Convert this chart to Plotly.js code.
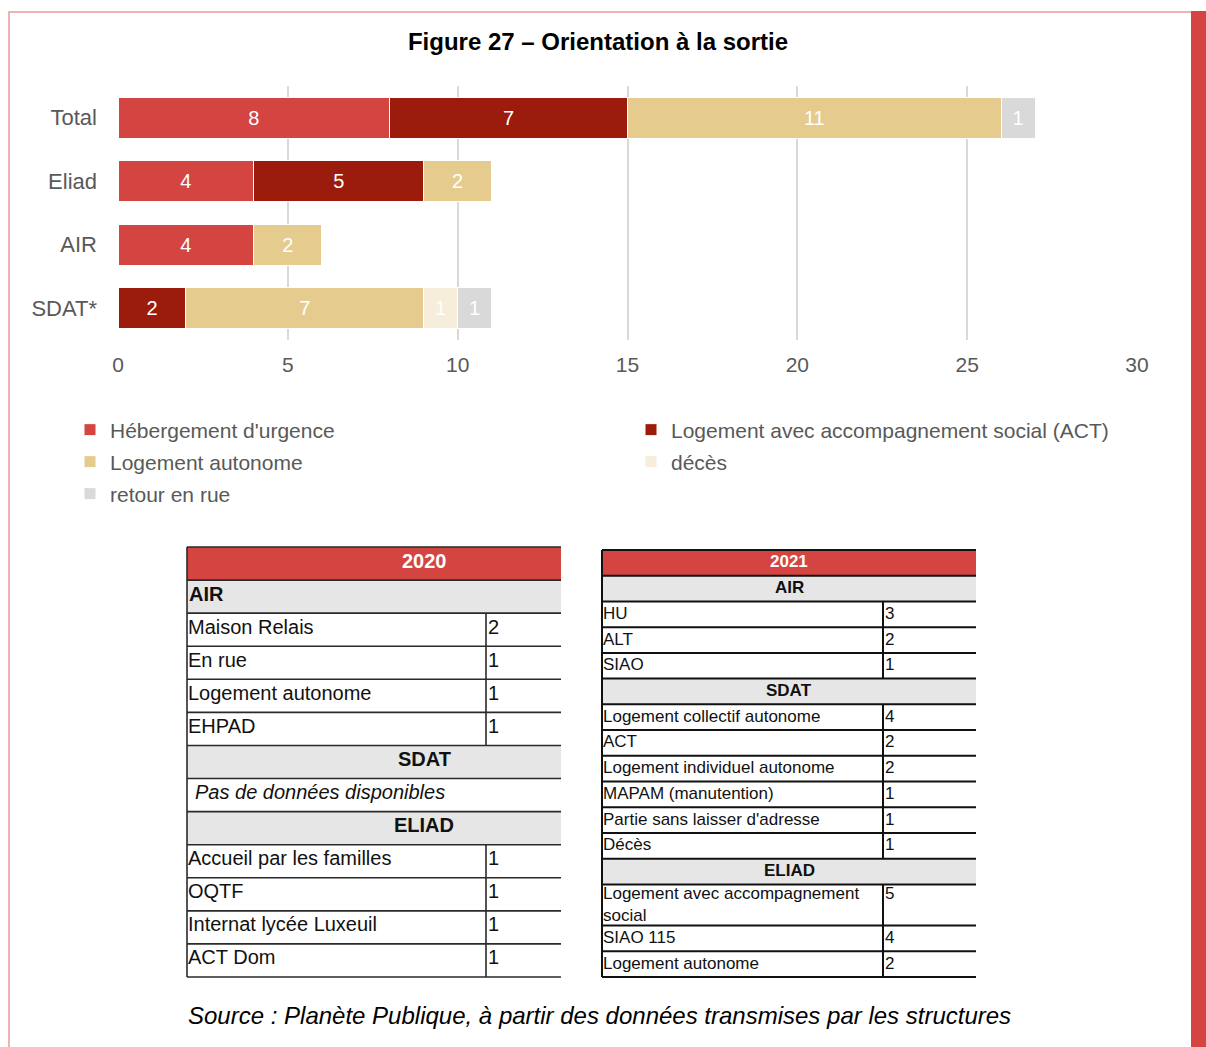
<!DOCTYPE html>
<html><head><meta charset="utf-8">
<script src="https://cdn.plot.ly/plotly-3.0.1.min.js"></script>
<style>html,body{margin:0;padding:0;background:#fff}#chart{width:1206px;height:1047px}</style>
</head><body><div id="chart"></div>
<script>
// ---------- DATA ----------
const categories = ['Total', 'Eliad', 'AIR', 'SDAT*'];
const seriesNames = ["Hébergement d'urgence", "Logement avec accompagnement social (ACT)", "Logement autonome", "décès", "retour en rue"];
const hebergementUrgence = [8, 4, 4, null];
const logementACT = [7, 5, null, 2];
const logementAutonome = [11, 2, 2, 7];
const deces = [null, null, null, 1];
const retourEnRue = [1, null, null, 1];
const xTickValues = [0, 5, 10, 15, 20, 25, 30];

const table2020Labels = ['2020', 'AIR', 'Maison Relais', 'En rue', 'Logement autonome', 'EHPAD', 'SDAT', 'Pas de données disponibles', 'ELIAD', 'Accueil par les familles', 'OQTF', 'Internat lycée Luxeuil', 'ACT Dom'];
const table2020Values = [null, null, 2, 1, 1, 1, null, null, null, 1, 1, 1, 1];
const table2020Kinds = ['year', 'group', 'item', 'item', 'item', 'item', 'group', 'note', 'group', 'item', 'item', 'item', 'item'];

const table2021Labels = ['2021', 'AIR', 'HU', 'ALT', 'SIAO', 'SDAT', 'Logement collectif autonome', 'ACT', 'Logement individuel autonome', 'MAPAM (manutention)', "Partie sans laisser d'adresse", 'Décès', 'ELIAD', 'Logement avec accompagnement\nsocial', 'SIAO 115', 'Logement autonome'];
const table2021Values = [null, null, 3, 2, 1, null, 4, 2, 2, 1, 1, 1, null, 5, 4, 2];
const table2021Kinds = ['year', 'group', 'item', 'item', 'item', 'group', 'item', 'item', 'item', 'item', 'item', 'item', 'group', 'item', 'item', 'item'];

// ---------- STYLE / LAYOUT ----------
const W = 1206, H = 1047;
const FONT = 'Liberation Sans, Arial, sans-serif';
const colors = ['#d44441', '#9b1c0c', '#e5cc8e', '#f6eedb', '#d9d9d9'];
const seriesData = [hebergementUrgence, logementACT, logementAutonome, deces, retourEnRue];
const legendOf = ['legend', 'legend', 'legend2', 'legend2', 'legend3'];
const px = v => v / W, py = v => 1 - v / H;

const traces = seriesData.map((vals, i) => ({
  type: 'bar', orientation: 'h', name: seriesNames[i],
  y: categories, x: vals, legend: legendOf[i],
  marker: {color: colors[i], line: {color: '#ffffff', width: 1}},
  text: vals.map(v => v == null ? '' : String(v)),
  textposition: 'inside', insidetextanchor: 'middle', textangle: 0,
  constraintext: 'none',
  textfont: {family: FONT, size: 20, color: '#ffffff'},
  hoverinfo: 'skip', xaxis: 'x', yaxis: 'y'
}));

const shapes = [];
const annotations = [];

// page frame
shapes.push({type: 'line', xref: 'paper', yref: 'paper', x0: px(8), x1: px(1191), y0: py(12), y1: py(12), line: {color: '#f0b3b3', width: 2}});
shapes.push({type: 'line', xref: 'paper', yref: 'paper', x0: px(9), x1: px(9), y0: py(12), y1: py(H), line: {color: '#f0b3b3', width: 2}});
shapes.push({type: 'rect', xref: 'paper', yref: 'paper', x0: px(1191), x1: 1, y0: py(11), y1: 0, fillcolor: '#d44441', line: {width: 0}});

function drawTable(cfg, labels, values, kinds) {
  const units = labels.map(l => l.includes('\n') ? 1.6 : 1);
  const total = units.reduce((a, b) => a + b, 0);
  const unitPx = (cfg.bottom - cfg.top) / total;
  const bounds = [cfg.top];
  let y = cfg.top;
  labels.forEach((lab, i) => {
    const h = units[i] * unitPx;
    const y0 = y, y1 = y + h;
    const kind = kinds[i];
    const multi = lab.includes('\n');
    if (kind === 'year' || kind === 'group') {
      shapes.push({type: 'rect', xref: 'x2', yref: 'y2', layer: 'below', x0: cfg.left, x1: cfg.right, y0: y0, y1: y1,
        fillcolor: kind === 'year' ? '#d44441' : '#e6e6e6', line: {width: 0}});
    }
    const cy = (y0 + y1) / 2 - cfg.textLift;
    const base = {xref: 'x2', yref: 'y2', showarrow: false, align: 'left'};
    if (kind === 'year') {
      annotations.push(Object.assign({}, base, {x: cfg.center, y: cy, xanchor: 'center', yanchor: 'middle',
        text: '<b>' + lab + '</b>', font: {family: FONT, size: cfg.headSize, color: '#ffffff'}}));
    } else if (kind === 'group') {
      const left = cfg.leftGroups.includes(lab);
      annotations.push(Object.assign({}, base, {x: left ? cfg.left : cfg.center, y: cy, xanchor: left ? 'left' : 'center', yanchor: 'middle',
        text: '<b>' + lab + '</b>', font: {family: FONT, size: cfg.headSize, color: '#111111'}}));
    } else if (kind === 'note') {
      annotations.push(Object.assign({}, base, {x: cfg.left + 6, y: cy, xanchor: 'left', yanchor: 'middle',
        text: '<i>' + lab + '</i>', font: {family: FONT, size: cfg.fontSize, color: '#111111'}}));
    } else {
      const ty = multi ? y0 - 2 : cy;
      const ya = multi ? 'top' : 'middle';
      annotations.push(Object.assign({}, base, {x: cfg.left - 1, y: ty, xanchor: 'left', yanchor: ya,
        text: lab.replace('\n', '<br>'), font: {family: FONT, size: cfg.fontSize, color: '#111111'}}));
      annotations.push(Object.assign({}, base, {x: cfg.divider, y: ty, xanchor: 'left', yanchor: ya,
        text: String(values[i]), font: {family: FONT, size: cfg.fontSize, color: '#111111'}}));
      shapes.push({type: 'line', xref: 'x2', yref: 'y2', x0: cfg.divider, x1: cfg.divider, y0: y0, y1: y1,
        line: {color: cfg.lineColor, width: cfg.lineWidth}});
    }
    y = y1;
    bounds.push(y);
  });
  bounds.forEach(b => shapes.push({type: 'line', xref: 'x2', yref: 'y2', x0: cfg.left, x1: cfg.right, y0: b, y1: b,
    line: {color: cfg.lineColor, width: cfg.lineWidth}}));
  shapes.push({type: 'line', xref: 'x2', yref: 'y2', x0: cfg.left, x1: cfg.left, y0: cfg.top, y1: cfg.bottom,
    line: {color: cfg.lineColor, width: cfg.lineWidth}});
}

drawTable({left: 187, right: 561, top: 547, bottom: 977, divider: 486, center: 424, fontSize: 20, headSize: 20,
  lineColor: '#2a2a2a', lineWidth: 1.6, textLift: 3, leftGroups: ['AIR']},
  table2020Labels, table2020Values, table2020Kinds);
drawTable({left: 602, right: 976, top: 550, bottom: 977, divider: 883, center: 789, fontSize: 17, headSize: 17,
  lineColor: '#111111', lineWidth: 2, textLift: 1, leftGroups: []},
  table2021Labels, table2021Values, table2021Kinds);

annotations.push({xref: 'paper', yref: 'paper', x: px(599), y: py(1015), xanchor: 'center', yanchor: 'middle', showarrow: false,
  text: '<i>Source : Planète Publique, à partir des données transmises par les structures</i>',
  font: {family: FONT, size: 24, color: '#000000'}});

const legendBase = {orientation: 'h', xanchor: 'left', yanchor: 'middle', x: px(70), entrywidth: 516, entrywidthmode: 'pixels',
  font: {family: FONT, size: 21, color: '#595959'}, bgcolor: 'rgba(0,0,0,0)', borderwidth: 0, traceorder: 'normal'};

const layout = {
  width: W, height: H,
  margin: {l: 0, r: 0, t: 0, b: 0, pad: 0},
  paper_bgcolor: '#ffffff', plot_bgcolor: 'rgba(0,0,0,0)',
  font: {family: FONT, color: '#595959'},
  title: {text: '<b>Figure 27 – Orientation à la sortie</b>', font: {family: FONT, size: 24, color: '#000000'},
    x: px(598), xanchor: 'center', y: py(42), yanchor: 'middle'},
  barmode: 'stack', bargap: 0.35,
  showlegend: true,
  legend: Object.assign({}, legendBase, {y: py(430)}),
  legend2: Object.assign({}, legendBase, {y: py(462)}),
  legend3: Object.assign({}, legendBase, {y: py(494)}),
  xaxis: {domain: [px(118), px(1137)], range: [0, 30], tickvals: xTickValues, ticktext: xTickValues.map(String),
    showgrid: true, gridcolor: '#d9d9d9', gridwidth: 2, zeroline: false, showline: false, ticks: '',
    tickfont: {family: FONT, size: 21, color: '#595959'}, ticklabelstandoff: 10, anchor: 'y', fixedrange: true},
  yaxis: {domain: [py(340), py(86)], type: 'category', categoryorder: 'array', categoryarray: categories, autorange: 'reversed',
    showgrid: false, zeroline: false, showline: false, ticks: '',
    tickfont: {family: FONT, size: 22, color: '#595959'}, ticklabelstandoff: 20, anchor: 'x', fixedrange: true},
  xaxis2: {domain: [0, 1], range: [0, W], visible: false, anchor: 'y2', fixedrange: true},
  yaxis2: {domain: [0, 1], range: [H, 0], visible: false, anchor: 'x2', fixedrange: true},
  shapes: shapes,
  annotations: annotations
};

// invisible anchor trace so the x2/y2 subplot used by the tables exists
traces.push({type: 'scatter', x: [0], y: [0], xaxis: 'x2', yaxis: 'y2', mode: 'markers', marker: {opacity: 0}, showlegend: false, hoverinfo: 'skip'});

Plotly.newPlot('chart', traces, layout, {displayModeBar: false, staticPlot: true});
</script>
</body></html>
